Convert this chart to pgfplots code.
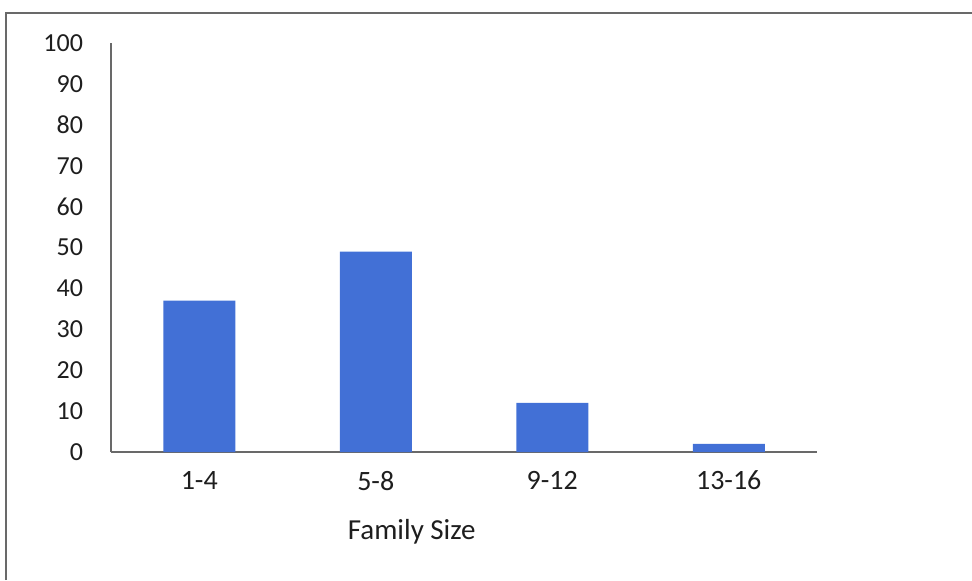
\documentclass[border=0pt]{standalone}
\usepackage{pgfplots}
\pgfplotsset{compat=1.18}
\usepackage{fontspec}
\setmainfont{Carlito}

\definecolor{barblue}{RGB}{66,112,214}
\definecolor{txtgray}{RGB}{30,30,30}
\definecolor{axgray}{RGB}{105,105,105}

\begin{document}
\begin{tikzpicture}
  % page = 972x580 px at 0.5pt per px, axis corner at px (111,452)
  \useasboundingbox (-55.5pt,-64pt) rectangle (430.5pt,226pt);
  \draw[axgray, line width=0.8pt] (-52.5pt,-64pt) -- (-52.5pt,219.5pt) -- (430.5pt,219.5pt);
  \begin{axis}[
    at={(0,0)}, anchor=south west,
    scale only axis,
    width=353pt, height=204.5pt,
    ymin=0, ymax=100,
    xmin=-0.5, xmax=3.5,
    ytick={0,10,...,100},
    xtick={0,1,2,3},
    xticklabels={1-4,5-8,9-12,13-16},
    major tick length=0pt,
    axis lines*=left,
    axis line style={axgray, line width=0.7pt, -},
    /pgf/number format/assume math mode=true,
    yticklabel style={font=\fontsize{13}{15}\selectfont, text=txtgray, xshift=-10.5pt},
    xticklabel style={font=\fontsize{14}{16}\selectfont, text=txtgray, yshift=-6pt},
    xlabel={Family Size},
    xlabel style={at={(rel axis cs:0.426,0)}, anchor=center, yshift=-40pt,
      font=\fontsize{14.5}{16}\selectfont, text=txtgray},
    ybar, bar width=36pt,
  ]
    \addplot[fill=barblue, draw=none] coordinates {
      (0,37) (1,49) (2,12) (3,2)
    };
  \end{axis}
\end{tikzpicture}
\end{document}
